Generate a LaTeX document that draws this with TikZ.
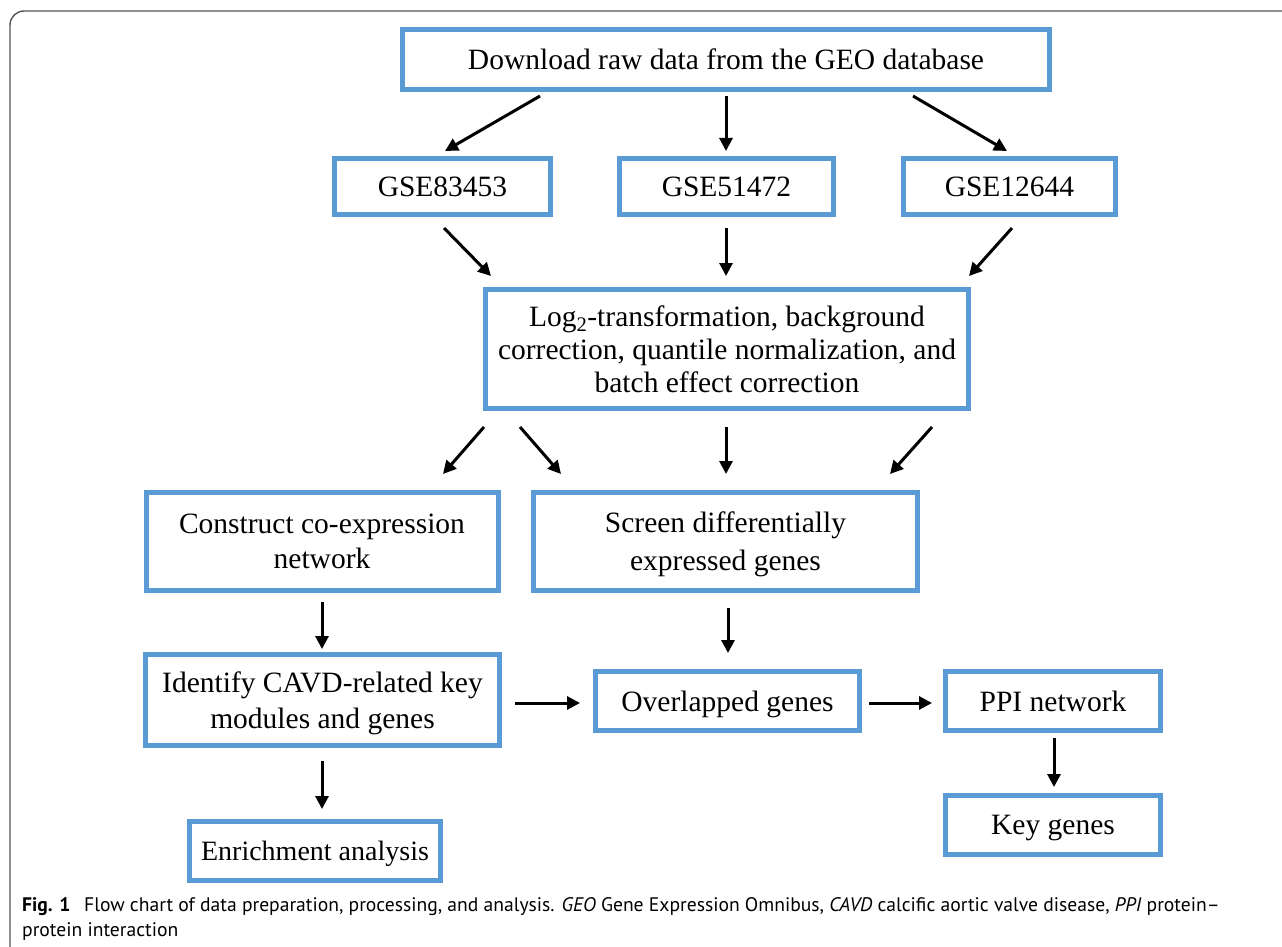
\documentclass[tikz,border=0pt]{standalone}
\usepackage{fontspec}
\setmainfont{Liberation Serif}
\newfontfamily\capfont{PT Sans}
\usetikzlibrary{arrows.meta}
\definecolor{boxblue}{HTML}{5B9BD5}
\definecolor{framegray}{HTML}{555555}
\tikzset{
  fbox/.style={draw=boxblue, line width=5pt, fill=white, align=center, inner sep=0pt,
    text depth=0pt, font=\fontsize{29.5}{33}\selectfont},
  arr/.style={line width=3pt, -{Triangle[length=13pt,width=13pt]}},
}
\begin{document}
\begin{tikzpicture}[x=1pt,y=-1pt]
\useasboundingbox (0,0) rectangle (1282,947);
\begin{scope}
\clip (0,0) rectangle (1282,947);
\draw[framegray, line width=1.4pt, rounded corners=14pt] (10,11) rectangle (1310,975);
\end{scope}
% boxes
\node[fbox, minimum width=647pt, minimum height=60pt] (dl) at (726,59.5) {Download raw data from the GEO database};
\node[fbox, minimum width=216pt, minimum height=56pt] (g1) at (442.5,186.5) {GSE83453};
\node[fbox, minimum width=214pt, minimum height=56pt] (g2) at (726.5,186.5) {GSE51472};
\node[fbox, minimum width=212pt, minimum height=56pt] (g3) at (1009.5,186.5) {GSE12644};
\node[fbox, minimum width=483pt, minimum height=119pt, text depth=-6pt] (lg) at (727,349) {Log\textsubscript{2}-transformation, background\\correction, quantile normalization, and\\batch effect correction};
\node[fbox, minimum width=352pt, minimum height=98pt, text depth=-7pt] (con) at (322,541.5) {Construct co-expression\\[2pt]network};
\node[fbox, minimum width=384pt, minimum height=98pt] (scr) at (725.5,541.5) {Screen differentially\\[5pt]expressed genes};
\node[fbox, minimum width=354pt, minimum height=91pt] (idf) at (322.5,700) {Identify CAVD-related key\\[3pt]modules and genes};
\node[fbox, minimum width=264pt, minimum height=59pt] (ovl) at (727.5,701) {Overlapped genes};
\node[fbox, minimum width=215pt, minimum height=59pt] (ppi) at (1053,701) {PPI network};
\node[fbox, minimum width=215pt, minimum height=59pt] (key) at (1053,825) {Key genes};
\node[fbox, minimum width=251pt, minimum height=59pt, font=\fontsize{28}{33}\selectfont] (enr) at (315,851) {Enrichment analysis};
% connector end points
\coordinate (a1s) at (540,96);  \coordinate (a1e) at (445,151);
\coordinate (a2s) at (726,96);  \coordinate (a2e) at (726,151);
\coordinate (a3s) at (913,96);  \coordinate (a3e) at (1007,151);
\coordinate (b1s) at (444,228); \coordinate (b1e) at (491,276);
\coordinate (b2s) at (726,228); \coordinate (b2e) at (726,276);
\coordinate (b3s) at (1012,228);\coordinate (b3e) at (969,276);
\coordinate (c1s) at (484,427); \coordinate (c1e) at (443,474);
\coordinate (c2s) at (520,427); \coordinate (c2e) at (561,474);
\coordinate (c3s) at (726,427); \coordinate (c3e) at (726,474);
\coordinate (c4s) at (932,427); \coordinate (c4e) at (890,474);
\coordinate (d1s) at (322,602); \coordinate (d1e) at (322,649);
\coordinate (d2s) at (728,608); \coordinate (d2e) at (728,653);
\coordinate (e1s) at (515,703); \coordinate (e1e) at (580,703);
\coordinate (e2s) at (869,703); \coordinate (e2e) at (932,703);
\coordinate (f1s) at (1054,738);\coordinate (f1e) at (1054,787);
\coordinate (g1s) at (322,761); \coordinate (g1e) at (322,809);
\draw[arr] (a1s) -- (a1e);
\draw[arr] (a2s) -- (a2e);
\draw[arr] (a3s) -- (a3e);
\draw[arr] (b1s) -- (b1e);
\draw[arr] (b2s) -- (b2e);
\draw[arr] (b3s) -- (b3e);
\draw[arr] (c1s) -- (c1e);
\draw[arr] (c2s) -- (c2e);
\draw[arr] (c3s) -- (c3e);
\draw[arr] (c4s) -- (c4e);
\draw[arr] (d1s) -- (d1e);
\draw[arr] (d2s) -- (d2e);
\draw[arr] (e1s) -- (e1e);
\draw[arr] (e2s) -- (e2e);
\draw[arr] (f1s) -- (f1e);
\draw[arr] (g1s) -- (g1e);
% caption
\node[anchor=base west, inner sep=0pt, font=\capfont\fontsize{19.6}{25}\selectfont, align=left] (cap) at (22,936)
 {\textbf{Fig. 1}\hspace{0.7em}Flow chart of data preparation, processing, and analysis. \textit{GEO} Gene Expression Omnibus, \textit{CAVD} calcific aortic valve disease, \textit{PPI} protein–\\protein interaction};
\end{tikzpicture}
\end{document}
